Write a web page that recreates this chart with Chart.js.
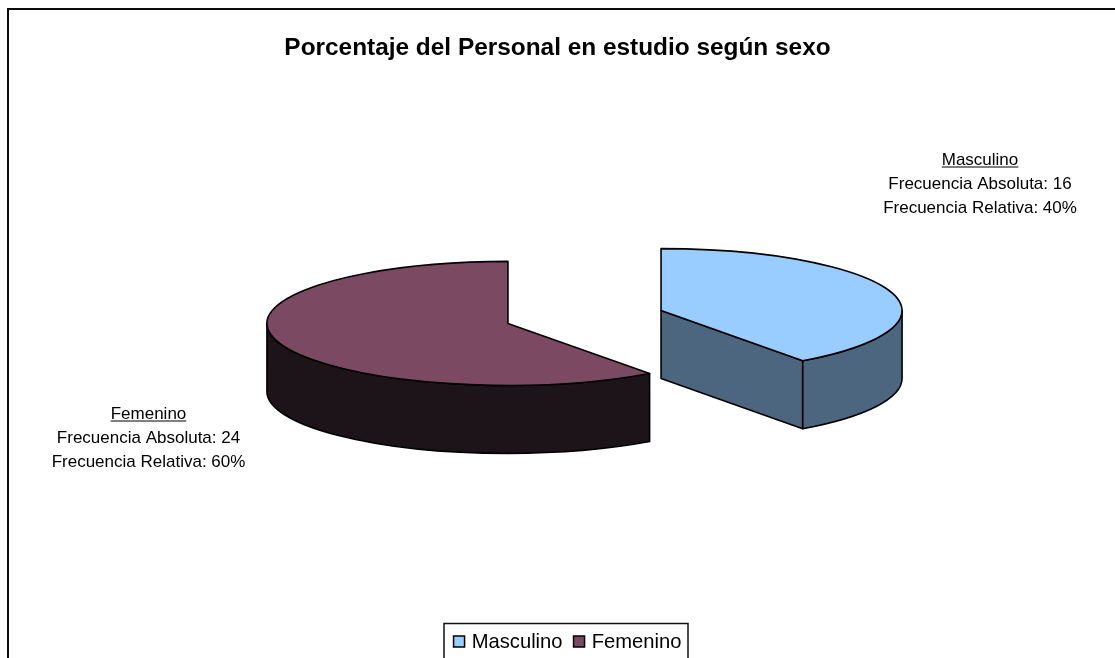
<!DOCTYPE html>
<html>
<head>
<meta charset="utf-8">
<style>html,body{margin:0;padding:0;background:#fff;overflow:hidden}canvas{display:block}</style>
<script src="https://cdn.jsdelivr.net/npm/chart.js@4"></script>
</head>
<body>
<canvas id="c" width="1115" height="658"></canvas>
<script>
const chartTitle = 'Porcentaje del Personal en estudio según sexo';
const categories = ['Masculino', 'Femenino'];
const frecuenciaAbsoluta = [16, 24];
const frecuenciaRelativa = [40, 60];
const topColors = ['#99CCFF', '#7B4A62'];
const wallColors = ['#4D6680', '#1D1419'];

const FONT = '"Liberation Sans", Arial, sans-serif';
const pieView = { cx: 584.5, cy: 317, squash: 62 / 241, depth: 68, explode: 80.5 };
const labelSpots = [{ x: 980, y: 164.5 }, { x: 148.5, y: 418.5 }];

const pie3d = {
  id: 'pie3d',
  afterLayout(chart) {
    const l = chart.legend;
    l.left += 10; l.right += 10; l.top += 5; l.bottom += 5;
  },
  beforeDatasetsDraw(chart) {
    const ctx = chart.ctx;
    const { cx, cy, squash: k, depth, explode } = pieView;
    chart.getDatasetMeta(0).data.forEach((arc, i) => {
      const { startAngle: a0, endAngle: a1, outerRadius: R } = arc;
      const mid = (a0 + a1) / 2;
      const px = cx + Math.cos(mid) * explode;
      const py = cy + Math.sin(mid) * explode * k;
      const at = t => [px + R * Math.cos(t), py + k * R * Math.sin(t)];
      ctx.save();
      ctx.strokeStyle = '#000';
      ctx.lineWidth = 1.6;
      ctx.lineJoin = 'round';
      ctx.fillStyle = wallColors[i];
      // flat cut faces that look towards the viewer
      [[a1, Math.cos(a1) > 1e-6], [a0, -Math.cos(a0) > 1e-6]].forEach(([t, front]) => {
        if (!front) return;
        const [ex, ey] = at(t);
        ctx.beginPath();
        ctx.moveTo(px, py); ctx.lineTo(ex, ey);
        ctx.lineTo(ex, ey + depth); ctx.lineTo(px, py + depth);
        ctx.closePath(); ctx.fill(); ctx.stroke();
      });
      // outer curved wall, front half only
      const w0 = Math.max(a0, 0), w1 = Math.min(a1, Math.PI);
      if (w1 > w0) {
        ctx.beginPath();
        ctx.ellipse(px, py, R, k * R, 0, w0, w1);
        ctx.ellipse(px, py + depth, R, k * R, 0, w1, w0, true);
        ctx.closePath(); ctx.fill(); ctx.stroke();
      }
      // top face, drawn by the library's own arc element
      ctx.save();
      ctx.translate(px, py);
      ctx.scale(1, k);
      ctx.translate(-arc.x, -arc.y);
      arc.draw(ctx);
      ctx.restore();
      ctx.beginPath();
      ctx.moveTo(px, py);
      ctx.ellipse(px, py, R, k * R, 0, a0, a1);
      ctx.closePath(); ctx.stroke();
      ctx.restore();
    });
    return false;
  },
  afterDraw(chart) {
    const ctx = chart.ctx;
    ctx.save();
    // outer frame, cut by the picture's right and bottom edges
    ctx.fillStyle = '#0a0a0a';
    ctx.fillRect(7, 8, 1108, 2);
    ctx.fillRect(7, 8, 2, 650);
    // legend frame
    ctx.strokeStyle = '#111';
    ctx.lineWidth = 1.5;
    ctx.strokeRect(444, 623.5, 244, 40);
    // legend swatches
    chart.legend.legendHitBoxes.forEach((hb, i) => {
      const y = Math.round(hb.top + hb.height / 2 - 6.5);
      ctx.clearRect(hb.left - 1, y - 1, 13, 14);
      ctx.fillStyle = topColors[i];
      ctx.fillRect(hb.left, y, 11, 11);
      ctx.strokeStyle = '#000';
      ctx.lineWidth = 1.5;
      ctx.strokeRect(hb.left, y, 11, 11);
    });
    // data labels
    ctx.fillStyle = '#000';
    ctx.textAlign = 'center';
    ctx.textBaseline = 'alphabetic';
    ctx.font = '17px ' + FONT;
    categories.forEach((name, i) => {
      const s = labelSpots[i];
      ctx.fillText(name, s.x, s.y);
      const w = ctx.measureText(name).width;
      ctx.fillRect(s.x - w / 2, s.y + 2, w, 1);
      ctx.fillText('Frecuencia Absoluta: ' + frecuenciaAbsoluta[i], s.x, s.y + 24);
      ctx.fillText('Frecuencia Relativa: ' + frecuenciaRelativa[i] + '%', s.x, s.y + 48);
    });
    ctx.restore();
  }
};

new Chart(document.getElementById('c'), {
  type: 'pie',
  data: {
    labels: categories,
    datasets: [{
      data: frecuenciaAbsoluta,
      backgroundColor: topColors,
      borderWidth: 0,
      clip: false
    }]
  },
  options: {
    responsive: false,
    animation: false,
    radius: 241,
    plugins: {
      tooltip: { enabled: false },
      title: {
        display: true,
        text: chartTitle,
        color: '#000',
        font: { family: FONT, size: 24.4, weight: 'bold' },
        padding: { top: 34, bottom: 8 }
      },
      legend: {
        position: 'bottom',
        labels: {
          color: '#000',
          font: { family: FONT, size: 20.2 },
          boxWidth: 8,
          boxHeight: 11,
          padding: 11
        }
      }
    }
  },
  plugins: [pie3d]
});
</script>
</body>
</html>
